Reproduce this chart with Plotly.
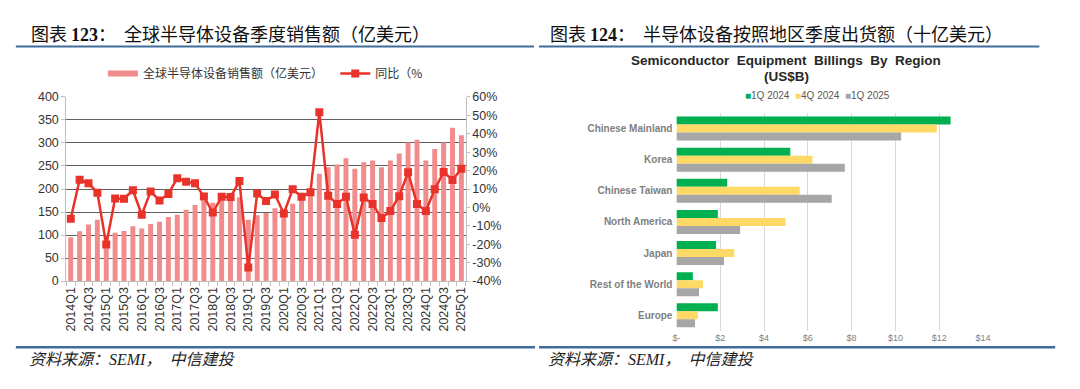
import plotly.graph_objects as go

# ---------------- data ----------------
quarters = ["2014Q1", "2014Q2", "2014Q3", "2014Q4", "2015Q1", "2015Q2", "2015Q3", "2015Q4",
            "2016Q1", "2016Q2", "2016Q3", "2016Q4", "2017Q1", "2017Q2", "2017Q3", "2017Q4",
            "2018Q1", "2018Q2", "2018Q3", "2018Q4", "2019Q1", "2019Q2", "2019Q3", "2019Q4",
            "2020Q1", "2020Q2", "2020Q3", "2020Q4", "2021Q1", "2021Q2", "2021Q3", "2021Q4",
            "2022Q1", "2022Q2", "2022Q3", "2022Q4", "2023Q1", "2023Q2", "2023Q3", "2023Q4",
            "2024Q1", "2024Q2", "2024Q3", "2024Q4", "2025Q1"]
sales = [95, 108, 123, 133, 100, 105, 109, 119, 114, 124, 129, 139, 144, 155, 165, 175,
         170, 178, 176, 182, 133, 143, 148, 158, 155, 168, 178, 192, 233, 247, 253, 267,
         244, 258, 262, 247, 262, 277, 301, 307, 262, 287, 301, 333, 317]
yoy = [-6.1, 15.0, 13.1, 8.0, -20.1, 4.9, 4.7, 9.3, -4.0, 8.7, 3.8, 7.3, 15.9, 14.0, 13.1, 5.9,
       -2.8, 5.8, 5.6, 14.3, -32.7, 7.5, 3.5, 7.0, -3.3, 9.8, 5.8, 8.2, 51.7, 6.3, 1.9, 5.8,
       -14.9, 5.4, 1.9, -5.8, -1.9, 6.1, 19.1, 1.9, -1.9, 9.8, 19.2, 14.9, 21.0]
left_ticks = [0, 50, 100, 150, 200, 250, 300, 350, 400]
right_ticks = [-40, -30, -20, -10, 0, 10, 20, 30, 40, 50, 60]
right_labels = ["-40%", "-30%", "-20%", "-10%", "0%", "10%", "20%", "30%", "40%", "50%", "60%"]

regions = ["Chinese Mainland", "Korea", "Chinese Taiwan", "North America", "Japan",
           "Rest of the World", "Europe"]
q1_2024 = [12.52, 5.20, 2.32, 1.89, 1.81, 0.75, 1.89]
q4_2024 = [11.89, 6.21, 5.63, 4.98, 2.64, 1.21, 0.98]
q1_2025 = [10.26, 7.69, 7.09, 2.91, 2.17, 1.03, 0.85]
usd_ticks = [0, 2, 4, 6, 8, 10, 12, 14]
usd_labels = ["$-", "$2", "$4", "$6", "$8", "$10", "$12", "$14"]

SALES_NAME = "全球半导体设备销售额（亿美元）"
YOY_NAME = "同比（%"

# ---------------- style ----------------
W, H = 1080, 389
BAR = "#F18C8C"
RED = "#E8322A"
GREEN = "#00B050"
YELLOW = "#FFD966"
GRAY = "#A6A6A6"
CJK = "Noto Sans CJK SC, sans-serif"
ARIAL = "Liberation Sans, Arial, sans-serif"
RULE = "#3E6D9C"


def fx(p):
    return p / W


def fy(p):
    return 1 - p / H


fig = go.Figure()

# left chart
fig.add_trace(go.Bar(x=quarters, y=sales, name=SALES_NAME, marker_color=BAR,
                     marker_line_width=0, width=0.56, xaxis="x", yaxis="y",
                     showlegend=False))
fig.add_trace(go.Scatter(x=[None], y=[None], mode="lines", name=SALES_NAME,
                         line=dict(color=BAR, width=6), xaxis="x", yaxis="y",
                         legend="legend", showlegend=True))
fig.add_trace(go.Scatter(x=quarters, y=yoy, mode="lines+markers", name=YOY_NAME,
                         line=dict(color=RED, width=2.5),
                         marker=dict(symbol="square", size=8, color=RED),
                         xaxis="x", yaxis="y2", legend="legend2", showlegend=True))

# right chart
for vals, color, off, nm in [(q1_2024, GREEN, -0.385, "1Q 2024"),
                             (q4_2024, YELLOW, -0.128, "4Q 2024"),
                             (q1_2025, GRAY, 0.129, "1Q 2025")]:
    fig.add_trace(go.Bar(x=vals, y=regions, orientation="h", name=nm, marker_color=color,
                         marker_line_width=0, width=0.257, offset=off,
                         xaxis="x3", yaxis="y3", showlegend=False))

fig.update_layout(
    width=W, height=H, margin=dict(l=0, r=0, t=0, b=0),
    paper_bgcolor="white", plot_bgcolor="white",
    barmode="group", bargap=0.23,
    xaxis=dict(domain=[fx(63), fx(467)], anchor="y", type="category",
               range=[-0.5, len(quarters) - 0.5],
               tickmode="array", tickvals=quarters,
               ticktext=[q if i % 2 == 0 else "" for i, q in enumerate(quarters)],
               tickangle=-90, tickson="boundaries", ticks="outside", ticklen=4,
               tickcolor="#BFBFBF", showline=True, linecolor="#BFBFBF", linewidth=1,
               showgrid=False, zeroline=False,
               tickfont=dict(family=ARIAL, size=12.5, color="#333333")),
    yaxis=dict(domain=[fy(284.3), fy(93.3)], anchor="x", range=[0, 400],
               tickmode="array", tickvals=left_ticks,
               showgrid=True, gridcolor="#606060", gridwidth=1.3, zeroline=False,
               showline=True, linecolor="#BFBFBF", linewidth=1,
               ticks="outside", ticklen=4, tickcolor="#BFBFBF",
               tickfont=dict(family=ARIAL, size=12.5, color="#333333")),
    yaxis2=dict(overlaying="y", side="right", anchor="x", range=[-40, 60],
                tickmode="array", tickvals=right_ticks, ticktext=right_labels,
                showgrid=False, zeroline=False,
                showline=True, linecolor="#BFBFBF", linewidth=1,
                ticks="outside", ticklen=3, tickcolor="#BFBFBF",
                tickfont=dict(family=ARIAL, size=12.5, color="#333333")),
    xaxis3=dict(domain=[fx(680), fx(990)], anchor="y3", range=[0, 14],
                tickmode="array", tickvals=usd_ticks, ticktext=usd_labels,
                showgrid=True, gridcolor="#D9D9D9", gridwidth=1.2, zeroline=False,
                showline=False, ticks="",
                tickfont=dict(family=ARIAL, size=9, color="#808080")),
    yaxis3=dict(domain=[fy(336), fy(110)], anchor="x3", type="category",
                categoryorder="array", categoryarray=regions, autorange="reversed",
                showgrid=False, zeroline=False, showline=False, ticks="",
                ticklabelstandoff=3,
                tickfont=dict(family=ARIAL, size=10, color="#808080", weight="bold")),
    legend=dict(x=fx(100), y=fy(69), xanchor="left", yanchor="middle",
                orientation="h", bgcolor="rgba(0,0,0,0)",
                font=dict(family=CJK, size=12, color="#333333")),
    legend2=dict(x=fx(335), y=fy(69), xanchor="left", yanchor="middle",
                 orientation="h", bgcolor="rgba(0,0,0,0)",
                 font=dict(family=CJK, size=12, color="#333333")),
)

# decorative rules
shapes = []
for x0, x1, y, wdt in [(12, 536, 41, 2), (541, 1047, 41, 2),
                       (12, 537, 353, 2.5), (541, 1063, 353, 2.5)]:
    shapes.append(dict(type="line", xref="paper", yref="paper",
                       x0=fx(x0), x1=fx(x1), y0=fy(y), y1=fy(y),
                       line=dict(color=RULE, width=wdt)))
fig.update_layout(shapes=shapes)

SERIF = "font-family:'Liberation Serif','Times New Roman',serif"
ann = [
    dict(x=fx(25), y=fy(27), xanchor="left", yanchor="middle",
         text=f"图表 <span style=\"{SERIF}\"><b>123</b></span>：  全球半导体设备季度销售额（亿美元）",
         font=dict(family=CJK, size=18, color="#111111")),
    dict(x=fx(550), y=fy(27), xanchor="left", yanchor="middle",
         text=f"图表 <span style=\"{SERIF}\"><b>124</b></span>：  半导体设备按照地区季度出货额（十亿美元）",
         font=dict(family=CJK, size=18, color="#111111")),
    dict(x=fx(791), y=fy(55), xanchor="center", yanchor="middle",
         text="<b>Semiconductor  Equipment  Billings  By  Region</b>",
         font=dict(family=ARIAL, size=13.5, color="#262626")),
    dict(x=fx(791), y=fy(72), xanchor="center", yanchor="middle",
         text="<b>(US$B)</b>",
         font=dict(family=ARIAL, size=13.5, color="#262626")),
    dict(x=fx(747), y=fy(92), xanchor="left", yanchor="middle",
         text=(f"<span style=\"color:{GREEN}\">■</span>1Q 2024  "
               f"<span style=\"color:{YELLOW}\">■</span>4Q 2024  "
               f"<span style=\"color:{GRAY}\">■</span>1Q 2025"),
         font=dict(family=ARIAL, size=10, color="#595959")),
    dict(x=fx(23), y=fy(366), xanchor="left", yanchor="middle",
         text="资料来源：SEMI，  中信建投",
         font=dict(family="Liberation Serif, Noto Sans CJK SC, serif", size=16,
                   color="#222222", style="italic")),
    dict(x=fx(548), y=fy(366), xanchor="left", yanchor="middle",
         text="资料来源：SEMI，  中信建投",
         font=dict(family="Liberation Serif, Noto Sans CJK SC, serif", size=16,
                   color="#222222", style="italic")),
]
for a in ann:
    a.update(xref="paper", yref="paper", showarrow=False)
fig.update_layout(annotations=ann)

fig.write_html("out.html", config={"displayModeBar": False},
               post_script="document.body.style.margin='0';")
